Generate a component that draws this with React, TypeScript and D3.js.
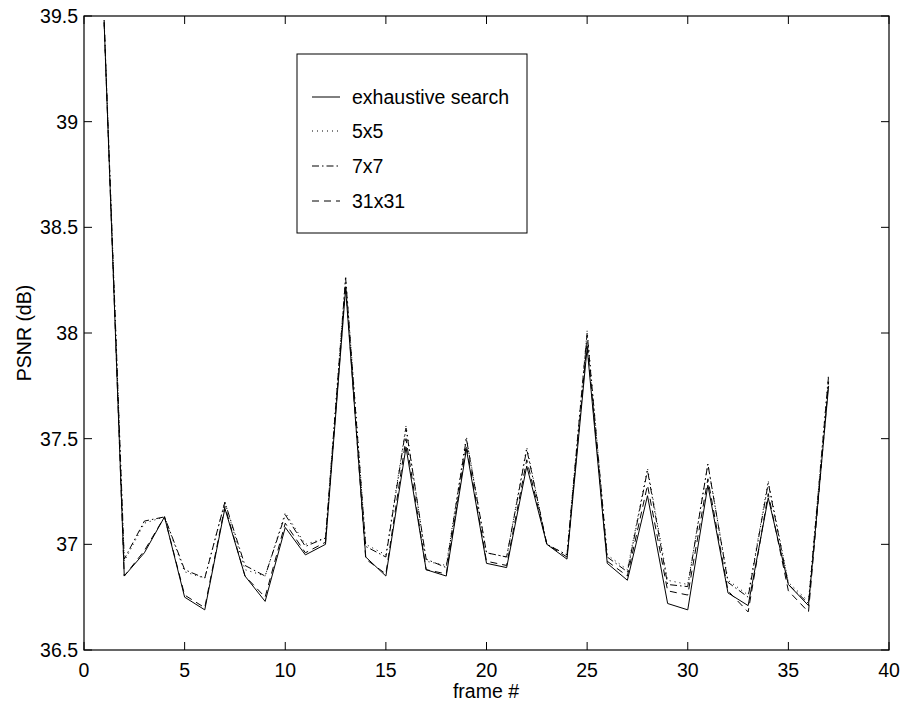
import React from "react";
import * as d3 from "d3";

const frames = d3.range(1, 38);
const exhaustive = [39.47, 36.85, 36.96, 37.13, 36.75, 36.69, 37.17, 36.85, 36.73, 37.08, 36.95, 37.0, 38.21, 36.94, 36.85, 37.46, 36.88, 36.85, 37.45, 36.91, 36.89, 37.37, 37.0, 36.93, 37.93, 36.91, 36.83, 37.23, 36.72, 36.69, 37.28, 36.77, 36.71, 37.22, 36.81, 36.71, 37.75];
const s5x5 = [39.48, 36.92, 37.1, 37.13, 36.87, 36.84, 37.2, 36.88, 36.85, 37.15, 37.0, 37.03, 38.27, 37.0, 36.95, 37.56, 36.92, 36.9, 37.51, 36.96, 36.94, 37.46, 37.0, 36.95, 38.01, 36.95, 36.88, 37.36, 36.83, 36.81, 37.38, 36.83, 36.76, 37.3, 36.82, 36.73, 37.81];
const s7x7 = [39.48, 36.93, 37.11, 37.13, 36.88, 36.84, 37.2, 36.9, 36.85, 37.14, 36.99, 37.03, 38.26, 36.99, 36.94, 37.55, 36.93, 36.89, 37.5, 36.96, 36.94, 37.45, 37.0, 36.95, 38.0, 36.94, 36.87, 37.35, 36.81, 36.8, 37.38, 36.82, 36.75, 37.29, 36.81, 36.72, 37.8];
const s31x31 = [39.47, 36.85, 36.97, 37.13, 36.76, 36.7, 37.18, 36.85, 36.75, 37.1, 36.96, 37.01, 38.23, 36.93, 36.86, 37.5, 36.88, 36.86, 37.47, 36.92, 36.9, 37.4, 37.0, 36.94, 37.96, 36.92, 36.85, 37.28, 36.78, 36.76, 37.31, 36.78, 36.68, 37.24, 36.78, 36.68, 37.77];

const seriesNames = ["exhaustive search", "5x5", "7x7", "31x31"];
const xTicks = [0, 5, 10, 15, 20, 25, 30, 35, 40];
const yTicks = [36.5, 37, 37.5, 38, 38.5, 39, 39.5];

const dashes = ["none", "1,4", "7,3,1.5,3", "7,5"];
const allSeries = [exhaustive, s5x5, s7x7, s31x31];

const W = 905, H = 707;
const L = 84, R = 889, T = 16, B = 650;
const FONT = "'Liberation Sans', Arial, Helvetica, sans-serif";
const FS = 19.5;

export default function App() {
  const x = d3.scaleLinear().domain([0, 40]).range([L, R]);
  const y = d3.scaleLinear().domain([36.5, 39.5]).range([B, T]);
  const line = d3.line<number>().x((_, i) => x(frames[i])).y((d) => y(d));
  const tick = 8;
  const legX = 297, legY = 54, legW = 230, legH = 179;
  const legRows = [97, 131, 166, 201];
  return (
    <svg width={W} height={H} style={{ position: "absolute", left: 0, top: 0, background: "#fff" }} fontFamily={FONT}>
      <rect x={0} y={0} width={W} height={H} fill="#fff" />
      {allSeries.map((s, i) => (
        <path key={i} d={line(s) || ""} fill="none" stroke="#000" strokeWidth={1} strokeDasharray={dashes[i]} />
      ))}
      <rect x={L} y={T} width={R - L} height={B - T} fill="none" stroke="#000" strokeWidth={1.2} />
      {xTicks.map((t) => (
        <g key={"x" + t}>
          <line x1={x(t)} x2={x(t)} y1={B} y2={B - tick} stroke="#000" />
          <line x1={x(t)} x2={x(t)} y1={T} y2={T + tick} stroke="#000" />
          <text x={x(t)} y={677} fontSize={FS} textAnchor="middle">{t}</text>
        </g>
      ))}
      {yTicks.map((t) => (
        <g key={"y" + t}>
          <line x1={L} x2={L + tick} y1={y(t)} y2={y(t)} stroke="#000" />
          <line x1={R} x2={R - tick} y1={y(t)} y2={y(t)} stroke="#000" />
          <text x={78} y={y(t) + 7} fontSize={FS} textAnchor="end">{t}</text>
        </g>
      ))}
      <text x={486} y={698} fontSize={FS} textAnchor="middle">frame #</text>
      <text transform={`translate(31,333) rotate(-90)`} fontSize={FS} textAnchor="middle">PSNR (dB)</text>
      <rect x={legX} y={legY} width={legW} height={legH} fill="#fff" stroke="#000" strokeWidth={1} />
      {seriesNames.map((n, i) => (
        <g key={n}>
          <line x1={312} x2={340} y1={legRows[i]} y2={legRows[i]} stroke="#000" strokeDasharray={dashes[i]} />
          <text x={352} y={legRows[i] + 7} fontSize={FS}>{n}</text>
        </g>
      ))}
    </svg>
  );
}
